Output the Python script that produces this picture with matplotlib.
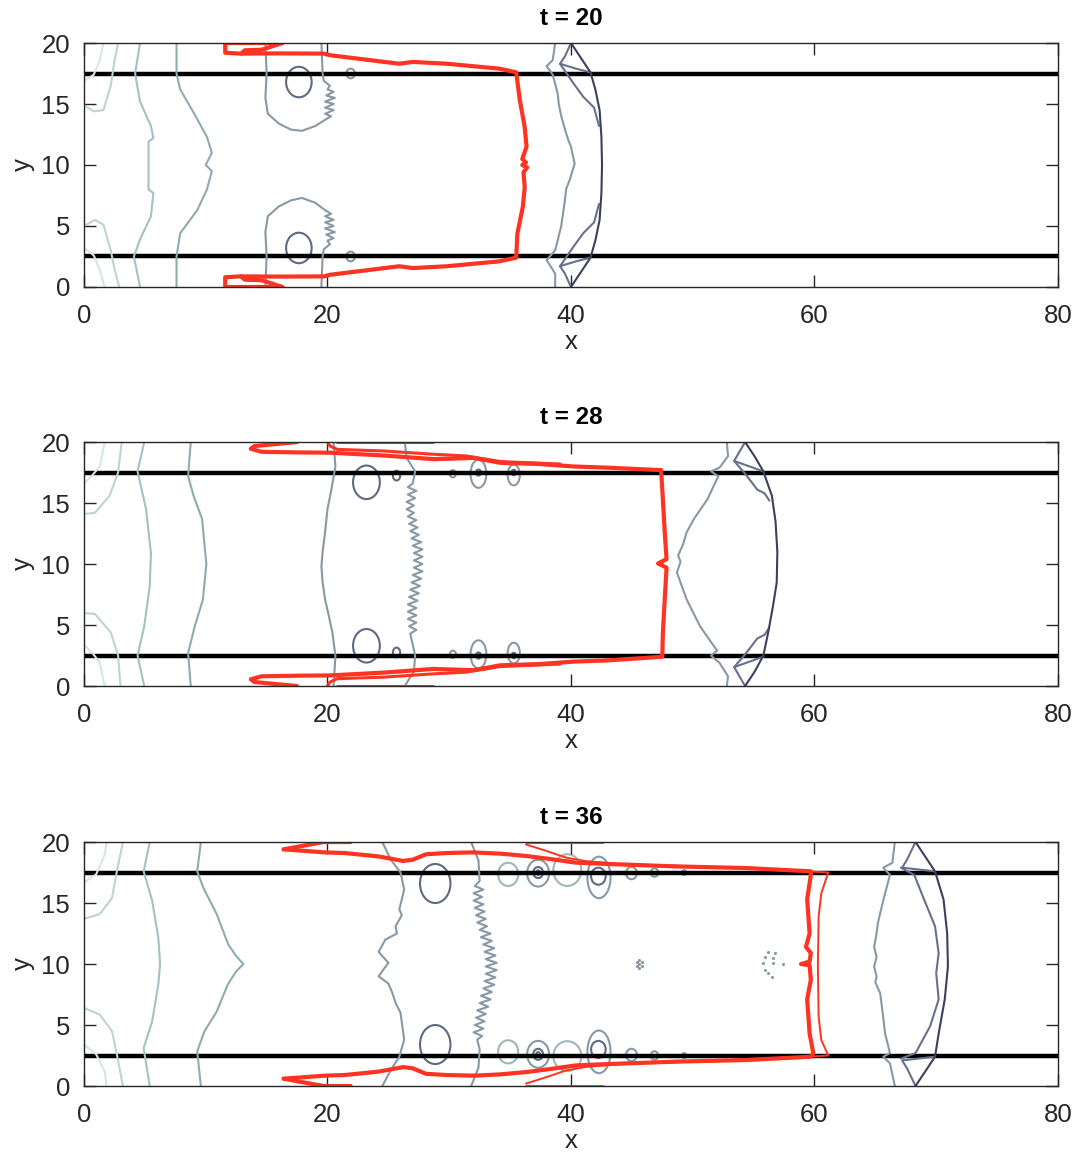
import numpy as np
import matplotlib.pyplot as plt
from matplotlib.patches import Ellipse

plt.rcParams['font.family'] = ['Liberation Sans', 'DejaVu Sans']

times = [20, 28, 36]
wall_y = [2.5, 17.5]
x_ticks = [0, 20, 40, 60, 80]
y_ticks = [0, 5, 10, 15, 20]

# ---------------- t = 20 ----------------
p1_c0_top = [(0, 16.9), (0.8, 17.4), (1.3, 18.6), (1.6, 20)]
p1_c0_bot = [(0, 3.2), (0.8, 2.6), (1.3, 1.4), (1.7, 0)]
p1_c1_top = [(0, 14.9), (0.8, 14.4), (1.6, 14.5), (2.2, 16.5), (2.5, 18.5), (2.8, 20)]
p1_c1_bot = [(0, 5.0), (0.9, 5.5), (1.6, 5.1), (2.2, 3.0), (2.5, 1.5), (2.9, 0)]
p1_c2 = [(4.6, 20), (4.2, 17.5), (4.6, 15.2), (5.5, 13.2), (5.7, 12.2), (5.3, 11.9), (5.3, 8.0),
         (5.7, 7.7), (5.5, 5.8), (4.6, 3.9), (4.1, 2.5), (4.6, 0)]
p1_c3 = [(7.6, 20), (7.6, 17.5), (7.9, 16.2), (9.0, 14.3), (10.1, 12.3), (10.5, 11.0), (10.0, 10.0),
         (10.5, 9.5), (10.1, 8.0), (9.3, 6.3), (7.9, 4.4), (7.6, 2.5), (7.6, 0)]
p1_u_top = [(14.9, 20), (15.0, 17.5), (14.9, 15.5), (15.1, 14.2), (16.0, 13.4), (17.0, 12.9), (17.9, 12.8),
            (19.0, 13.2), (19.8, 13.7), (20.3, 14.0), (19.8, 14.2), (20.5, 14.5), (19.8, 14.7), (20.5, 15.0),
            (19.8, 15.2), (20.6, 15.5), (19.9, 15.7), (20.5, 16.0), (20.0, 16.2), (20.2, 16.5), (19.7, 16.9),
            (19.6, 17.5), (19.5, 20)]
p1_u_bot = [(14.9, 0), (15.0, 2.5), (14.9, 4.5), (15.1, 5.8), (16.0, 6.6), (17.0, 7.1), (17.9, 7.3),
            (19.0, 6.9), (19.8, 6.3), (20.3, 6.0), (19.8, 5.8), (20.5, 5.5), (19.8, 5.3), (20.5, 5.0),
            (19.8, 4.8), (20.6, 4.5), (19.9, 4.3), (20.5, 4.0), (20.0, 3.8), (20.2, 3.5), (19.7, 3.1),
            (19.6, 2.5), (19.5, 0)]
p1_vort = [(17.65, 16.8, 2.1, 2.5), (17.65, 3.2, 2.1, 2.5)]
p1_small = [(21.9, 17.5, 0.7, 0.8), (21.9, 2.5, 0.7, 0.8)]
p1_dots = [(21.0, 17.5), (26.1, 17.5), (21.0, 2.5), (26.1, 2.5)]
p1_red = [(16.3, 20), (11.6, 20), (11.6, 19.2), (12.9, 19.13), (16.0, 19.15), (19.7, 19.13), (20.2, 19.0),
          (25.9, 18.3), (27.0, 18.45), (29.8, 18.3), (34.1, 17.9), (35.5, 17.6), (35.8, 15.3), (36.2, 13.1),
          (36.35, 11.5), (36.0, 10.5), (36.3, 10.2), (36.0, 10.0), (36.4, 9.8), (36.1, 9.4), (36.2, 8.2),
          (36.05, 6.6), (35.6, 4.4), (35.5, 2.4), (34.1, 2.1), (29.8, 1.7), (27.0, 1.55), (25.9, 1.7),
          (20.2, 1.0), (19.7, 0.87), (16.0, 0.85), (12.9, 0.87), (11.6, 0.8), (11.6, 0), (16.3, 0)]
p1_red_tip_top = [(16.3, 20), (14.6, 19.45), (13.2, 19.4), (12.9, 19.13)]
p1_red_tip_bot = [(16.3, 0), (14.6, 0.55), (13.2, 0.6), (12.9, 0.87)]
p1_front = [(38.7, 20), (38.5, 18.6), (38.0, 18.1), (38.5, 17.4), (38.9, 15.9), (39.0, 15.0), (39.2, 14.0),
            (39.6, 12.6), (39.8, 12.0), (40.0, 11.5), (40.3, 10.1), (39.9, 8.8), (39.6, 8.0), (39.5, 7.1),
            (39.2, 5.0), (38.7, 3.0), (38.0, 2.2), (38.7, 1.1), (38.7, 0)]
p1_arc = [(40.0, 20), (40.8, 18.8), (41.6, 17.6), (42.0, 16.2), (42.35, 14.5), (42.5, 12.3), (42.55, 10),
          (42.5, 7.7), (42.35, 5.5), (42.0, 3.8), (41.6, 2.4), (40.8, 1.2), (40.0, 0)]
p1_tri_top = [(40.0, 20), (39.5, 18.9), (39.1, 18.3), (40.4, 17.9), (41.6, 17.6)]
p1_tri_bot = [(40.0, 0), (39.5, 1.1), (39.1, 1.7), (40.4, 2.1), (41.6, 2.4)]
p1_br_top = [(39.1, 18.3), (40.2, 16.7), (41.0, 15.6), (41.9, 14.7), (42.3, 13.2)]
p1_br_bot = [(39.1, 1.7), (40.2, 3.3), (41.0, 4.4), (41.9, 5.3), (42.3, 6.8)]

# ---------------- t = 28 ----------------
p2_c0_top = [(0, 16.6), (0.7, 17.3), (1.3, 18.0), (1.7, 20)]
p2_c0_bot = [(0, 3.4), (0.7, 2.7), (1.3, 1.9), (1.7, 0)]
p2_c1_top = [(0, 14.1), (0.9, 14.2), (2.1, 15.6), (2.8, 17.5), (3.1, 20)]
p2_c1_bot = [(0, 6.0), (0.9, 5.9), (2.2, 4.4), (2.8, 2.5), (3.0, 0)]
p2_c2 = [(4.95, 20), (4.4, 17.6), (5.1, 14.5), (5.5, 10.9), (5.4, 8.2), (4.95, 4.9), (4.4, 2.5), (4.95, 0)]
p2_c3 = [(8.77, 20), (8.55, 17.2), (9.0, 15.6), (9.7, 13.7), (10.05, 10.0), (9.77, 7.1), (9.1, 4.9),
         (8.55, 2.7), (8.77, 0)]
p2_e = [(20.5, 20), (20.65, 18.0), (20.3, 16.0), (20.0, 14.5), (19.8, 12.6), (19.6, 11.0), (19.5, 9.8),
        (19.6, 8.5), (19.8, 7.1), (20.1, 5.8), (20.4, 4.4), (20.65, 2.5), (20.6, 1.6), (20.5, 0)]
p2_f = [(26.35, 20), (26.5, 18.7), (27.2, 17.6), (27.0, 16.6), (26.6, 16.3), (27.3, 16.0), (26.6, 15.7),
        (27.2, 15.4), (26.5, 15.1), (27.1, 14.8), (26.5, 14.5), (27.1, 14.2), (26.6, 13.9), (27.3, 13.6),
        (26.7, 13.3), (27.4, 13.0), (26.8, 12.7), (27.5, 12.4), (26.9, 12.1), (27.7, 11.8), (27.0, 11.5),
        (27.8, 11.2), (27.1, 10.9), (27.8, 10.6), (27.1, 10.3), (27.8, 10.0), (27.1, 9.7), (27.8, 9.4),
        (27.0, 9.1), (27.7, 8.8), (26.9, 8.5), (27.6, 8.2), (26.8, 7.9), (27.5, 7.6), (26.7, 7.3),
        (27.4, 7.0), (26.6, 6.7), (27.3, 6.4), (26.6, 6.1), (27.3, 5.8), (26.6, 5.5), (27.3, 5.2),
        (26.7, 4.9), (27.3, 4.6), (26.8, 4.3), (27.0, 3.4), (27.2, 2.5), (27.1, 1.2), (26.35, 0)]
p2_vort = [(23.2, 16.7, 2.2, 2.75), (23.2, 3.3, 2.2, 2.75), (25.67, 17.25, 0.6, 0.8), (25.67, 2.75, 0.6, 0.8),
           (32.4, 17.5, 0.4, 0.5), (32.4, 2.5, 0.4, 0.5), (35.3, 17.5, 0.35, 0.45), (35.3, 2.5, 0.35, 0.45)]
p2_loops = [(30.3, 17.4, 0.5, 0.6), (30.3, 2.6, 0.5, 0.6), (32.4, 17.4, 1.3, 2.3), (32.4, 2.6, 1.3, 2.3),
            (35.3, 17.3, 1.0, 1.7), (35.3, 2.7, 1.0, 1.7)]
p2_dots = [(28.9, 17.5), (29.5, 17.5), (33.5, 17.5), (34.1, 17.5),
           (28.9, 2.5), (29.5, 2.5), (33.5, 2.5), (34.1, 2.5)]
p2_red = [(17.5, 20), (14.0, 19.67), (13.7, 19.45), (14.6, 19.2), (17.7, 19.15), (20.2, 19.13), (24.6, 18.9),
          (28.7, 18.6), (32.0, 18.7), (34.2, 18.3), (37.4, 18.2), (40.2, 18.0), (43.0, 17.9), (47.4, 17.7),
          (47.55, 15.3), (47.7, 12.6), (47.85, 10.4), (47.15, 10.05), (47.85, 9.7), (47.7, 7.1), (47.55, 4.4),
          (47.5, 2.4), (43.0, 2.1), (40.2, 2.0), (37.4, 1.8), (34.2, 1.7), (32.0, 1.3), (28.7, 1.4),
          (24.6, 1.1), (20.2, 0.87), (17.7, 0.85), (14.6, 0.8), (13.7, 0.55), (14.0, 0.33), (17.5, 0)]
p2_red2_top = [(20.0, 20), (20.2, 19.68), (20.8, 19.4), (24.6, 19.27), (28.7, 19.0), (31.4, 18.86),
               (34.2, 18.4), (39.1, 18.2)]
p2_red2_bot = [(20.0, 0), (20.2, 0.32), (20.8, 0.6), (24.6, 0.73), (28.7, 1.0), (31.4, 1.14),
               (34.2, 1.6), (39.1, 1.8)]
p2_red_edge_top = [(20.8, 20), (28.7, 20)]
p2_red_edge_bot = [(20.8, 0), (28.7, 0)]
p2_front = [(52.8, 20), (52.9, 18.85), (52.2, 17.9), (51.5, 17.6), (52.1, 17.2), (51.2, 15.3), (50.1, 13.7),
            (49.5, 12.6), (49.2, 11.6), (48.8, 10.7), (49.0, 10.2), (48.7, 9.3), (49.5, 7.1), (50.6, 4.9),
            (52.0, 2.9), (51.5, 2.5), (52.2, 1.9), (52.9, 0.8), (52.8, 0)]
p2_arc = [(54.3, 20), (55.1, 18.8), (55.8, 17.6), (56.5, 15.6), (56.8, 13.5), (56.95, 11.0), (56.9, 8.5),
          (56.6, 6.6), (56.2, 4.4), (55.8, 2.5), (55.1, 1.2), (54.3, 0)]
p2_tri_top = [(54.3, 20), (53.4, 18.45), (55.8, 17.6)]
p2_tri_bot = [(54.3, 0), (53.4, 1.55), (55.8, 2.4)]
p2_br_top = [(53.4, 18.45), (54.35, 17.35), (55.3, 16.1), (55.9, 15.8), (56.3, 15.2)]
p2_br_bot = [(53.4, 1.55), (54.35, 2.65), (55.3, 3.9), (55.9, 4.2), (56.3, 4.8)]

# ---------------- t = 36 ----------------
p3_c0_top = [(0, 16.7), (1.0, 17.35), (1.7, 19.0), (1.86, 20)]
p3_c0_bot = [(0, 3.4), (1.0, 2.6), (1.7, 1.2), (1.86, 0)]
p3_c1_top = [(0, 13.7), (1.3, 14.1), (2.3, 15.4), (2.7, 17.6), (3.2, 20)]
p3_c1_bot = [(0, 6.4), (1.3, 5.85), (2.3, 4.5), (2.7, 2.6), (3.2, 0)]
p3_c2 = [(5.4, 20), (4.9, 17.6), (5.6, 15.2), (6.1, 12.2), (6.25, 10.0), (6.1, 8.3), (5.6, 5.3), (4.9, 3.1),
         (5.4, 0)]
p3_c3 = [(9.6, 20), (9.3, 17.6), (9.8, 16.25), (10.9, 14.1), (11.85, 11.6), (12.5, 10.65), (13.1, 10.0),
         (12.5, 9.4), (11.8, 8.3), (10.9, 6.1), (9.9, 4.5), (9.3, 2.85), (9.6, 0)]
p3_e = [(24.5, 20), (25.2, 18.55), (26.0, 17.5), (26.3, 16.1), (25.9, 14.5), (26.1, 14.0), (25.6, 13.1),
        (25.7, 12.5), (24.75, 12.0), (24.2, 11.0), (25.0, 10.1), (24.2, 9.0), (25.0, 8.4), (25.3, 7.7),
        (25.6, 6.8), (26.0, 6.0), (26.3, 3.8), (25.9, 2.4), (25.2, 1.3), (24.5, 0)]
p3_f = [(31.8, 20), (32.4, 18.5), (32.5, 16.8), (32.1, 16.4), (32.8, 16.1), (32.0, 15.8), (32.7, 15.5),
        (32.0, 15.2), (32.8, 14.9), (32.1, 14.6), (32.9, 14.3), (32.2, 14.0), (33.0, 13.7), (32.3, 13.4),
        (33.1, 13.1), (32.5, 12.8), (33.4, 12.5), (32.6, 12.2), (33.5, 11.9), (32.8, 11.6), (33.7, 11.3),
        (32.9, 11.0), (33.8, 10.7), (33.0, 10.4), (33.9, 10.1), (33.0, 9.8), (33.9, 9.5), (33.0, 9.2),
        (33.8, 8.9), (32.9, 8.6), (33.7, 8.3), (32.8, 8.0), (33.5, 7.7), (32.6, 7.4), (33.4, 7.1),
        (32.5, 6.8), (33.2, 6.5), (32.3, 6.2), (33.0, 5.9), (32.2, 5.6), (32.9, 5.3), (32.1, 5.0),
        (32.8, 4.7), (32.0, 4.4), (32.7, 4.1), (32.3, 3.8), (32.5, 3.0), (32.4, 1.5), (31.8, 0)]
p3_vort = [(28.85, 16.6, 2.5, 3.2), (28.85, 3.4, 2.5, 3.2), (37.3, 17.5, 0.8, 0.9), (37.3, 2.6, 0.8, 0.9),
           (37.3, 17.5, 0.3, 0.35), (37.3, 2.6, 0.3, 0.35), (42.25, 17.2, 1.2, 1.4), (42.25, 3.0, 1.2, 1.4)]
p3_light = [(34.84, 17.35, 1.65, 1.9), (34.84, 2.8, 1.65, 1.9), (39.7, 17.7, 2.3, 2.6), (39.7, 2.45, 2.3, 2.45)]
p3_loops = [(37.3, 17.45, 1.8, 2.2), (37.3, 2.6, 1.8, 2.2), (42.3, 17.1, 1.9, 3.4), (42.3, 2.8, 1.9, 3.5),
            (44.97, 17.45, 0.9, 1.0), (44.97, 2.55, 0.9, 1.0), (46.86, 17.5, 0.6, 0.7), (46.86, 2.5, 0.6, 0.7),
            (49.3, 17.5, 0.35, 0.4), (49.3, 2.5, 0.35, 0.4)]
p3_dots = [(44.0, 17.5), (45.9, 17.5), (48.1, 17.5), (50.45, 17.5),
           (44.0, 2.5), (45.9, 2.5), (48.1, 2.5), (50.45, 2.5),
           (45.4, 10.2), (45.6, 10.0), (45.8, 10.2), (45.4, 9.8), (45.8, 9.8), (45.6, 10.35), (45.6, 9.65),
           (56.2, 11.0), (55.9, 10.6), (56.6, 10.5), (55.76, 10.07), (56.6, 10.07), (57.45, 10.0),
           (55.9, 9.5), (56.2, 9.25), (56.5, 8.97), (56.75, 10.9)]
p3_red = [(16.4, 19.4), (19.8, 19.15), (21.4, 19.1), (24.2, 18.82), (26.2, 18.45), (27.0, 18.55),
          (28.1, 19.0), (29.8, 19.1), (32.0, 19.15), (34.15, 19.05), (36.3, 18.86), (38.5, 18.58),
          (40.4, 18.31), (43.05, 18.2), (48.7, 18.0), (54.35, 17.87), (59.7, 17.6), (59.7, 17.3),
          (59.4, 15.3), (59.6, 12.5), (59.3, 11.4), (59.7, 10.9), (59.6, 10.2), (58.9, 10.0), (59.6, 9.9),
          (59.7, 8.7), (59.4, 7.1), (59.6, 4.3), (59.9, 2.7), (59.7, 2.4), (54.35, 2.13), (48.7, 2.0),
          (43.05, 1.8), (40.4, 1.69), (38.5, 1.42), (36.3, 1.14), (34.15, 0.95), (32.0, 0.85), (29.8, 0.9),
          (28.1, 1.0), (27.0, 1.45), (26.2, 1.55), (24.2, 1.18), (21.4, 0.9), (19.8, 0.85), (16.4, 0.6)]
p3_red_tip_top = [(16.4, 19.4), (17.7, 19.64), (19.7, 20), (21.9, 20)]
p3_red_tip_bot = [(16.4, 0.6), (17.7, 0.36), (19.7, 0), (21.9, 0)]
p3_red2 = [(36.3, 19.8), (37.98, 19.27), (39.6, 18.72), (41.2, 18.44), (44.0, 18.2), (48.7, 18.05),
           (54.35, 17.9), (61.13, 17.5), (60.56, 15.8), (60.34, 13.9), (60.28, 9.8), (60.34, 5.7),
           (60.56, 3.78), (61.13, 2.5), (54.35, 2.1), (48.7, 1.95), (44.0, 1.8), (41.2, 1.56),
           (39.6, 1.28), (37.98, 0.73), (36.3, 0.2)]
p3_red_edge_top = [(36.3, 20), (42.6, 20)]
p3_red_edge_bot = [(36.3, 0), (42.6, 0)]
p3_front = [(66.6, 20), (66.4, 18.3), (65.65, 17.9), (66.2, 17.3), (65.8, 15.8), (65.4, 14.2), (65.2, 13.3),
            (65.1, 12.5), (64.9, 11.4), (65.1, 10.6), (64.9, 9.8), (65.1, 9.0), (65.0, 8.5), (65.4, 7.6),
            (65.6, 6.0), (65.8, 4.3), (66.2, 2.7), (65.65, 2.4), (66.2, 1.86), (66.6, 0)]
p3_arc = [(68.3, 20), (69.1, 18.8), (69.9, 17.6), (70.6, 15.3), (70.9, 12.5), (70.96, 9.8), (70.7, 7.1),
          (70.2, 4.3), (69.9, 2.4), (69.1, 1.2), (68.3, 0)]
p3_mid = [(67.1, 17.9), (68.2, 17.3), (69.0, 15.3), (69.9, 13.1), (70.2, 10.9), (70.0, 9.25), (70.2, 7.1),
          (69.5, 4.9), (68.3, 2.7), (67.1, 2.25)]
p3_tri_top = [(68.3, 20), (67.6, 18.55), (67.2, 17.9), (69.9, 17.6)]
p3_tri_bot = [(68.3, 0), (67.6, 1.45), (67.2, 2.1), (69.9, 2.4)]

# colours
C0, C1, C2, C3 = '#d5e7e4', '#bcd5d2', '#a3c2c1', '#8eabb1'
GREY, DARK, LIGHT = '#8899a6', '#5d6a82', '#a0b6b8'
SH_MID, SH_DARK, RED = '#67718c', '#3d3f5c', '#ff3322'


def line(ax, pts, color, lw=1.5):
    a = np.array(pts)
    ax.plot(a[:, 0], a[:, 1], color=color, lw=lw, solid_joinstyle='round', solid_capstyle='round')


def loops(ax, items, color, lw=1.5):
    for cx, cy, w, h in items:
        ax.add_patch(Ellipse((cx, cy), w, h, fill=False, ec=color, lw=lw))


def dots(ax, pts, color):
    a = np.array(pts)
    ax.scatter(a[:, 0], a[:, 1], s=5, color=color, lw=0)


panels = [
    dict(lines=[(p1_c0_top, C0), (p1_c0_bot, C0), (p1_c1_top, C1), (p1_c1_bot, C1), (p1_c2, C2),
                (p1_c3, C3), (p1_u_top, GREY), (p1_u_bot, GREY), (p1_front, GREY),
                (p1_br_top, SH_MID), (p1_br_bot, SH_MID), (p1_tri_top, SH_MID), (p1_tri_bot, SH_MID),
                (p1_arc, SH_DARK)],
         red=[(p1_red, 3.0), (p1_red_tip_top, 3.0), (p1_red_tip_bot, 3.0)],
         vort=p1_vort, loops=p1_small, light=[], dots=p1_dots),
    dict(lines=[(p2_c0_top, C0), (p2_c0_bot, C0), (p2_c1_top, C1), (p2_c1_bot, C1), (p2_c2, C2),
                (p2_c3, C3), (p2_e, GREY), (p2_f, GREY), (p2_front, GREY),
                (p2_br_top, SH_MID), (p2_br_bot, SH_MID), (p2_tri_top, SH_MID), (p2_tri_bot, SH_MID),
                (p2_arc, SH_DARK)],
         red=[(p2_red, 3.0), (p2_red2_top, 2.2), (p2_red2_bot, 2.2), (p2_red_edge_top, 2.2),
              (p2_red_edge_bot, 2.2)],
         vort=p2_vort, loops=p2_loops, light=[], dots=p2_dots),
    dict(lines=[(p3_c0_top, C0), (p3_c0_bot, C0), (p3_c1_top, C1), (p3_c1_bot, C1), (p3_c2, C2),
                (p3_c3, C3), (p3_e, GREY), (p3_f, GREY), (p3_front, GREY),
                (p3_mid, SH_MID), (p3_tri_top, SH_MID), (p3_tri_bot, SH_MID), (p3_arc, SH_DARK)],
         red=[(p3_red, 3.0), (p3_red_tip_top, 3.0), (p3_red_tip_bot, 3.0), (p3_red2, 1.4),
              (p3_red_edge_top, 2.0), (p3_red_edge_bot, 2.0)],
         vort=p3_vort, loops=p3_loops, light=p3_light, dots=p3_dots),
]

fig = plt.figure(figsize=(10.81, 11.53), dpi=100)
bottoms = [0.7511, 0.4050, 0.0581]

for t, b, pan in zip(times, bottoms, panels):
    ax = fig.add_axes([0.0777, b, 0.901, 0.2116])
    for yw in wall_y:
        ax.plot([0, 80], [yw, yw], color='black', lw=3.2, solid_capstyle='butt')
    for pts, col in pan['lines']:
        line(ax, pts, col)
    loops(ax, pan['light'], LIGHT)
    loops(ax, pan['loops'], GREY)
    loops(ax, pan['vort'], DARK)
    dots(ax, pan['dots'], GREY)
    for pts, lw in pan['red']:
        line(ax, pts, RED, lw)

    ax.set_xlim(0, 80)
    ax.set_ylim(0, 20)
    ax.set_xticks(x_ticks)
    ax.set_yticks(y_ticks)
    ax.tick_params(direction='in', length=8.5, width=1, top=True, right=True,
                   labelsize=18.5, colors='#262626')
    ax.tick_params(axis='x', pad=12)
    ax.tick_params(axis='y', pad=10)
    for sp in ax.spines.values():
        sp.set_color('#262626')
        sp.set_linewidth(1)
    ax.set_xlabel('x', fontsize=18.5, color='#262626', labelpad=2)
    ax.set_ylabel('y', fontsize=18.5, color='#262626', labelpad=5)
    ax.set_title(f't = {t}', fontsize=17.5, fontweight='bold', pad=13)

fig.savefig('out.png', dpi=100)
